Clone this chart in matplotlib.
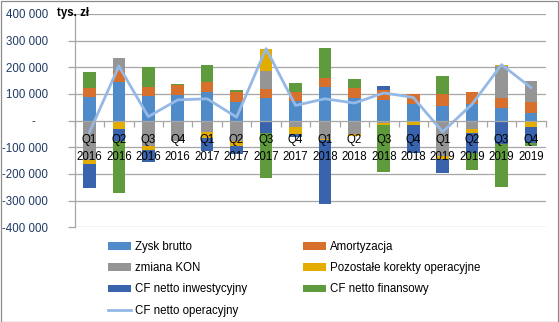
import matplotlib
matplotlib.use("Agg")
import matplotlib.pyplot as plt
import numpy as np
from matplotlib.patches import Patch, Rectangle
from matplotlib.lines import Line2D
from matplotlib.ticker import FixedLocator

quarters = ["Q1", "Q2", "Q3", "Q4"] * 4
years = ["2016"] * 4 + ["2017"] * 4 + ["2018"] * 4 + ["2019"] * 4

zysk_brutto = [87, 146, 92, 95, 109, 70, 85, 72, 125, 85, 77, 62, 56, 62, 47, 27]
amortyzacja = [34, 42, 33, 37, 35, 37, 33, 34, 35, 38, 37, 37, 43, 44, 39, 42]
zmiana_kon = [-146, 48, -94, -75, -41, -75, 68, -24, -68, -51, -10, -6, -133, -30, 120, 80]
pozostale = [-18, -33, -16, 0, -25, -19, 84, -26, -6, -5, -5, -9, -9, -15, 4, -23]
cf_inwest = [-87, -43, -44, 0, -48, -31, -48, -10, -240, 0, 15, -105, -56, -75, -89, -60]
cf_finans = [61, -197, 75, 5, 63, 8, -167, 34, 113, 33, -178, 0, 68, -66, -161, -13]
cf_operacyjny = [-44, 205, 15, 78, 82, 13, 270, 57, 82, 66, 104, 87, -42, 62, 210, 124]

series_names = ["Zysk brutto", "Amortyzacja", "zmiana KON", "Pozostałe korekty operacyjne",
                "CF netto inwestycyjny", "CF netto finansowy"]
line_name = "CF netto operacyjny"
colors = ["#4F8BC9", "#D8702D", "#959595", "#E3AC00", "#3A63AE", "#5F9B3C"]
line_color = "#95B9E6"

FONT = "Liberation Sans"
FS = 8.3
W, H = 559, 322
fig = plt.figure(figsize=(W / 100, H / 100), dpi=100)
ax = fig.add_axes([74.7 / W, 1 - 227.3 / H, (545.7 - 74.7) / W, (227.3 - 14) / H])

x = np.arange(len(quarters))
data = [np.array(s, dtype=float) * 1000 for s in
        [zysk_brutto, amortyzacja, zmiana_kon, pozostale, cf_inwest, cf_finans]]
pos_base = np.zeros(len(x))
neg_base = np.zeros(len(x))
handles = []
for vals, c, name in zip(data, colors, series_names):
    pos = np.where(vals > 0, vals, 0)
    neg = np.where(vals < 0, vals, 0)
    ax.bar(x, pos, 0.43, bottom=pos_base, color=c, zorder=1, linewidth=0)
    ax.bar(x, neg, 0.43, bottom=neg_base, color=c, zorder=1, linewidth=0)
    pos_base += pos
    neg_base += neg
    handles.append(Patch(facecolor=c, label=name))

ax.plot(x, np.array(cf_operacyjny) * 1000, color=line_color, lw=2.0, zorder=2)
line_handle = Line2D([], [], color=line_color, lw=2.0, label=line_name)

ax.set_xlim(-0.5, len(x) - 0.5)
ax.set_ylim(-400000, 400000)
yt = np.arange(-400000, 400001, 100000)
for v in yt:
    if v != 0:
        ax.axhline(v, color="#A6A6A6", lw=0.9, zorder=0)


def fmt(v):
    if v == 0:
        return "-    "
    s = f"{abs(int(v)):,}".replace(",", " ")
    return ("-" if v < 0 else "") + s


ax.set_yticks(yt)
ax.set_yticklabels([fmt(v) for v in yt], fontfamily=FONT, fontsize=FS, color="#1F3A66")
ax.tick_params(axis="y", length=5, width=0.9, color="#A6A6A6", pad=14)

ax.spines["bottom"].set_position(("data", 0))
for s in ["top", "right"]:
    ax.spines[s].set_visible(False)
ax.spines["left"].set_color("#A6A6A6")
ax.spines["bottom"].set_color("#A6A6A6")
ax.spines["left"].set_linewidth(0.9)
ax.spines["bottom"].set_linewidth(0.9)

ax.set_xticks(x)
ax.set_xticklabels([f"{q}\n{y}" for q, y in zip(quarters, years)],
                   fontfamily=FONT, fontsize=FS, color="black", linespacing=1.55)
ax.tick_params(axis="x", which="major", length=0, pad=9.5)
ax.xaxis.set_minor_locator(FixedLocator(np.arange(-0.5, len(x), 1.0)))
ax.tick_params(axis="x", which="minor", length=4.5, width=0.9, color="#A6A6A6", direction="out")

fig.text(57 / W, 1 - 13 / H, "tys. zł", fontfamily=FONT, fontsize=FS, fontweight="bold",
         va="center", ha="left")

col1 = [handles[0], handles[2], handles[4], line_handle]
col2 = [handles[1], handles[3], handles[5]]
common = dict(frameon=False, prop={"family": FONT, "size": FS}, handlelength=2.0,
              handleheight=0.65, handletextpad=0.35, labelspacing=0.8, borderpad=0,
              borderaxespad=0, loc="upper left")
leg1 = fig.legend(handles=col1, bbox_to_anchor=(108 / W, 1 - 241 / H), **common)
leg2 = fig.legend(handles=col2, bbox_to_anchor=(303 / W, 1 - 241 / H), **common)

fig.patches.append(Rectangle((0.5 / W, 0.5 / H), 1 - 1.5 / W, 1 - 1.5 / H, transform=fig.transFigure,
                             fill=False, edgecolor="#8C8C8C", lw=0.9))

fig.savefig("out.png", dpi=100)
